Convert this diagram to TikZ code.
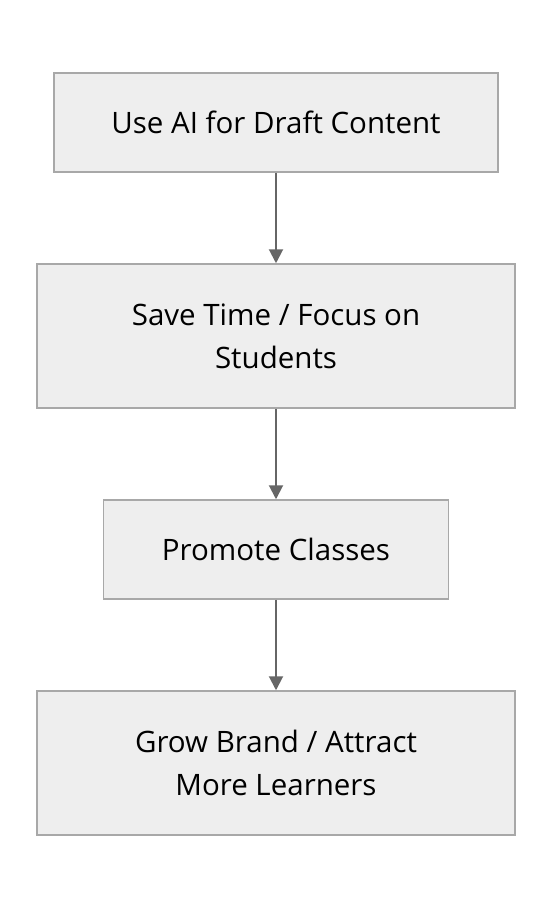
\documentclass[tikz,border=0pt]{standalone}
\usepackage{fontspec}
\setmainfont{Open Sans}
\usetikzlibrary{arrows.meta}

\definecolor{boxfill}{HTML}{EEEEEE}
\definecolor{boxline}{HTML}{A8A8A8}
\definecolor{arrowgray}{HTML}{666666}

\tikzset{
    stepbox/.style={draw=boxline, fill=boxfill, line width=1.5pt, align=center,
        font=\fontsize{29.5}{43}\selectfont, inner sep=0pt},
    flow/.style={draw=arrowgray, line width=2pt, -{Triangle[length=14pt,width=14pt]}}
}

\begin{document}
\begin{tikzpicture}[x=1pt,y=-1pt]
\useasboundingbox (0,0) rectangle (552,908);

\node[stepbox, minimum width=444pt, minimum height=99pt] (draft) at (276,122.5) {Use AI for Draft Content};
\node[stepbox, minimum width=478pt, minimum height=144pt] (time) at (276,336) {Save Time / Focus on\\Students};
\node[stepbox, minimum width=345pt, minimum height=99pt] (promote) at (276,549.5) {Promote Classes};
\node[stepbox, minimum width=478pt, minimum height=144pt] (grow) at (276,763) {Grow Brand / Attract\\More Learners};

\draw[flow] (draft) -- (time);
\draw[flow] (time) -- (promote);
\draw[flow] (promote) -- (grow);
\end{tikzpicture}
\end{document}
